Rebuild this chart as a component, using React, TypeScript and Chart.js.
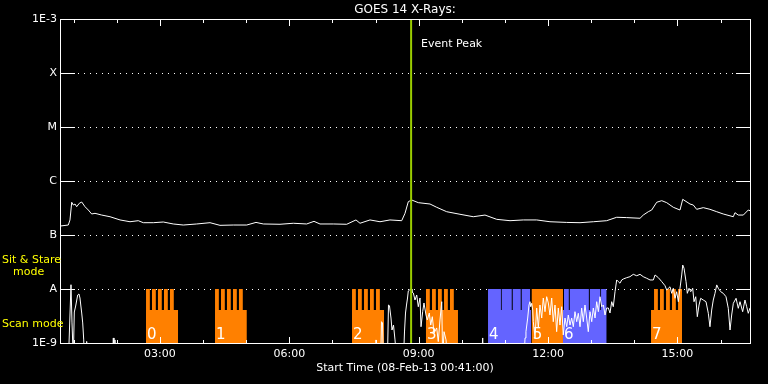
import React, { useEffect, useRef } from 'react';
import { Chart, registerables } from 'chart.js';

Chart.register(...registerables);

// ---------- text ----------
const chartTitle = 'GOES 14 X-Rays:';
const startTimeLabel = 'Start Time (08-Feb-13 00:41:00)';
const eventLabel = 'Event Peak';
const stareLabel = ['Sit & Stare', 'mode'];
const scanLabel = 'Scan mode';

// ---------- axes (time in minutes after 00:00 UT) ----------
const timeMin = 41;
const timeMax = 1001;
const hourTicks = [60, 120, 180, 240, 300, 360, 420, 480, 540, 600, 660, 720, 780, 840, 900, 960];
const timeTickValues = [180, 360, 540, 720, 900];
const timeTickLabels = ['03:00', '06:00', '09:00', '12:00', '15:00'];
const fluxTickValues = [1e-9, 1e-8, 1e-7, 1e-6, 1e-5, 1e-4, 1e-3];
const fluxTickLabels = ['1E-9', 'A', 'B', 'C', 'M', 'X', '1E-3'];

// ---------- long channel (1-8 A) ----------
const highTimes = [
  42.0, 52.5, 54.9, 57.3, 59.5, 61.9, 64.2, 67.9, 71.2, 75.8, 80.4, 85.1, 89.7, 99.0,
  110.6, 124.5, 138.4, 149.9, 156.9, 170.8, 184.7, 198.6, 212.5, 231.2, 249.7, 263.6,
  282.1, 300.8, 313.7, 323.9, 347.1, 365.6, 384.2, 394.4, 402.7, 421.2, 439.9, 452.8,
  458.4, 472.3, 486.2, 500.1, 516.4, 521.0, 525.6, 530.3, 539.5, 555.8, 565.1, 579.0,
  597.5, 616.0, 632.3, 648.6, 667.1, 685.6, 704.2, 722.7, 746.0, 764.5, 783.0, 801.6,
  815.5, 829.4, 848.0, 852.5, 859.5, 864.2, 871.2, 878.2, 885.1, 894.3, 903.6, 907.4,
  917.5, 922.1, 926.8, 936.0, 945.3, 954.7, 963.8, 977.8, 980.1, 984.7, 991.7, 998.6, 1001,
];
const highFlux = [
  1.47e-7, 1.53e-7, 1.90e-7, 4.04e-7, 3.59e-7, 3.75e-7, 3.34e-7, 3.87e-7, 4.08e-7, 3.34e-7, 2.90e-7, 2.45e-7, 2.52e-7, 2.34e-7,
  2.18e-7, 1.90e-7, 1.76e-7, 1.84e-7, 1.69e-7, 1.69e-7, 1.74e-7, 1.60e-7, 1.53e-7, 1.60e-7, 1.69e-7, 1.51e-7,
  1.53e-7, 1.53e-7, 1.71e-7, 1.60e-7, 1.58e-7, 1.65e-7, 1.60e-7, 1.79e-7, 1.60e-7, 1.60e-7, 1.58e-7, 1.90e-7,
  1.65e-7, 1.90e-7, 1.76e-7, 1.90e-7, 1.84e-7, 2.52e-7, 4.14e-7, 4.45e-7, 3.97e-7, 3.75e-7, 3.26e-7, 2.70e-7,
  2.42e-7, 2.18e-7, 2.34e-7, 1.95e-7, 1.84e-7, 1.90e-7, 1.90e-7, 1.76e-7, 1.71e-7, 1.69e-7, 1.76e-7, 1.84e-7,
  2.13e-7, 2.10e-7, 2.04e-7, 2.34e-7, 2.70e-7, 2.90e-7, 4.04e-7, 4.32e-7, 3.97e-7, 3.26e-7, 2.90e-7, 4.58e-7,
  3.75e-7, 3.59e-7, 2.99e-7, 3.21e-7, 2.99e-7, 2.70e-7, 2.45e-7, 2.18e-7, 2.59e-7, 2.34e-7, 2.34e-7, 2.90e-7, 2.82e-7,
];

// ---------- short channel (0.5-4 A) ----------
const lowTimes = [
  41, 52.8, 56.3, 57.7, 59.5, 60.9, 62.8, 65.6, 67.4, 68.8, 70.2, 71.2, 72.6, 74.0, 74.8, 76.8, 78.1, 80.0,
  114.0, 115.2, 116.1, 116.8, 117.5, 118.5,
  479.3, 480.6, 482.7, 487.2, 488.3, 489.7, 490.8, 496.6, 498.0, 499.4, 501.5, 502.9, 505.0, 507.1, 509.5,
  518.9, 520.3, 521.7, 523.1, 524.5, 525.6, 527.3, 529.4, 530.7, 532.6, 534.9, 537.3, 539.5, 541.9, 543.3,
  545.6, 547.4, 550.2, 552.0, 554.8, 556.8, 559.0, 561.4, 565.1, 567.3, 569.7, 572.1, 573.4, 575.3, 578.1, 579.9,
  627.4, 629.1, 630.2,
  686.6, 688.0, 689.3, 691.7, 693.5, 694.9, 695.9, 697.3, 698.7, 699.5, 701.9, 704.2, 706.5, 708.8, 711.2,
  713.4, 715.8, 718.1, 720.4, 722.7, 725.1, 727.3, 729.7, 732.0, 734.3, 736.6, 739.0, 741.2, 743.6, 746.0,
  748.2, 750.6, 752.9, 755.2, 757.5, 759.9, 762.1, 764.5, 766.8, 769.1, 771.4, 773.8, 776.0, 778.4, 780.8,
  783.0, 785.4, 787.7, 790.0, 792.3, 794.7, 797.0, 799.3, 801.6, 803.9, 806.2, 808.6, 810.8, 813.2, 815.5,
  817.8, 820.1, 822.5, 824.7, 829.4, 834.0, 838.6, 843.4, 848.0, 852.5, 857.3, 861.9, 866.5, 868.9, 873.5,
  878.2, 882.8, 885.1, 889.7, 892.1, 894.3, 896.7, 899.0, 901.3, 903.6, 906.0, 907.4, 909.2, 912.0, 913.8,
  916.2, 918.5, 921.3, 923.1, 925.5, 927.7, 930.1, 932.4, 936.0, 939.8, 943.0, 945.3, 947.7, 949.9, 952.3,
  954.7, 956.9, 960.3, 963.8, 967.6, 970.8, 973.2, 975.5, 977.8, 981.6, 984.7, 987.1, 990.8, 994.0, 996.4,
  998.6, 1001,
];
const lowFlux = [
  5e-10, 5e-10, 1.2e-8, 2.35e-9, 5e-10, 3.75e-9, 4.84e-9, 7.74e-9, 8.08e-9, 6.81e-9, 4.64e-9, 3.59e-9, 2.35e-9, 1.14e-9, 5e-10, 5e-10, 1.07e-9, 5e-10,
  5e-10, 1.24e-9, 5e-10, 5e-10, 1.14e-9, 5e-10,
  5e-10, 1.14e-9, 5e-10, 5e-10, 2.48e-9, 2.35e-9, 5e-10, 5e-10, 5.05e-9, 4.9e-9, 2.9e-9, 1.74e-9, 2.15e-9, 1.14e-9, 5e-10,
  5e-10, 1.6e-9, 3.59e-9, 5.05e-9, 6.81e-9, 9.2e-9, 9.58e-9, 1.0e-8, 8.8e-9, 8.43e-9, 6.25e-9, 7.74e-9, 4.7e-9, 6.81e-9, 2.0e-9,
  3.8e-9, 5.51e-9, 3.3e-9, 2.67e-9, 3.59e-9, 2.15e-9, 3.07e-9, 1.53e-9, 1.9e-9, 1.06e-9, 2.67e-9, 5.82e-9, 5e-10, 1.62e-9, 1.14e-9, 5e-10,
  5e-10, 1.24e-9, 5e-10,
  5e-10, 1.24e-9, 1.62e-9, 2.9e-9, 5.05e-9, 5.82e-9, 4.7e-9, 5.43e-9, 4.08e-9, 2.48e-9, 1.24e-9, 4.45e-9, 1.9e-9, 5.05e-9, 2.9e-9,
  6.81e-9, 3.8e-9, 7.2e-9, 5.51e-9, 3.3e-9, 6.81e-9, 2.48e-9, 5.05e-9, 1.62e-9, 4.45e-9, 2.15e-9, 4.7e-9, 1.41e-9, 2.9e-9, 2.0e-9,
  3.3e-9, 2.15e-9, 2.9e-9, 2.0e-9, 3.8e-9, 2.48e-9, 3.55e-9, 2.0e-9, 4.45e-9, 2.48e-9, 5.05e-9, 2.9e-9, 1.62e-9, 3.8e-9, 2.48e-9,
  4.45e-9, 2.9e-9, 5.82e-9, 3.8e-9, 7.2e-9, 4.7e-9, 5.05e-9, 3.3e-9, 4.45e-9, 4.45e-9, 3.59e-9, 5.82e-9, 4.7e-9, 8.91e-9, 1.47e-8,
  1.37e-8, 1.28e-8, 1.47e-8, 1.53e-8, 1.62e-8, 1.69e-8, 1.87e-8, 1.76e-8, 1.87e-8, 1.69e-8, 1.58e-8, 1.47e-8, 1.47e-8, 1.82e-8, 1.62e-8,
  1.37e-8, 1.15e-8, 9.58e-9, 1.1e-8, 8.32e-9, 1.03e-8, 6.73e-9, 8.91e-9, 5.82e-9, 1.03e-8, 1.82e-8, 2.78e-8, 2.42e-8, 1.37e-8, 8.32e-9,
  1.03e-8, 8.91e-9, 1.03e-8, 5.82e-9, 7.2e-9, 3.07e-9, 5.05e-9, 6.73e-9, 6.25e-9, 5.82e-9, 3.55e-9, 2.0e-9, 4.08e-9, 6.25e-9, 8.32e-9,
  1.19e-8, 1.03e-8, 8.91e-9, 8.32e-9, 7.2e-9, 4.39e-9, 1.74e-9, 3.3e-9, 5.43e-9, 6.73e-9, 4.39e-9, 5.82e-9, 3.8e-9, 6.25e-9, 4.7e-9,
  3.55e-9, 4.45e-9,
];

// ---------- event & observing modes ----------
const eventPeakTime = 529.5;
const SCAN_LEVEL = 4.08e-9;
const STARE_LEVEL = 1e-8;
const scanBlocks = [
  [160.7, 205.2], [256.7, 300.8], [447.3, 491.8], [550.2, 594.7], [863.3, 906.4],
];
const orangeStare = [
  [160.7, 166.0], [169.0, 174.3], [177.3, 182.6], [185.7, 191.0], [194.0, 199.3],
  [256.7, 262.0], [265.0, 270.3], [273.3, 278.6], [281.7, 287.0], [290.0, 295.3],
  [447.3, 452.6], [455.6, 460.9], [464.0, 469.3], [472.3, 477.6], [480.7, 486.0],
  [550.2, 555.5], [558.6, 563.9], [566.9, 572.2], [575.3, 580.6], [583.6, 588.9],
  [697.3, 740.8],
  [867.5, 872.8], [875.8, 881.1], [884.2, 889.5], [892.5, 897.8], [900.9, 906.4],
];
const blueStare = [[636.5, 696.3], [740.8, 801.6]];
const stareGaps = [
  [654.2, 655.6], [669.5, 670.9], [682.0, 683.4], [695.0, 696.4],
  [740.8, 742.2], [748.9, 750.3], [776.8, 778.2], [792.6, 794.0],
];
const blockLabels = ['0', '1', '2', '3', '4', '5', '6', '7'];
const blockLabelTimes = [160.7, 256.7, 447.3, 550.2, 636.5, 697.3, 740.8, 863.3];

const ORANGE = '#ff8000';
const BLUE = '#6464ff';
const EVENT_COLOR = '#9acd00';
const FONT = '"DejaVu Sans", sans-serif';

function steps(segs: number[][], level: number, floor: number) {
  const pts: { x: number; y: number }[] = [];
  for (const [a, b] of segs) {
    pts.push({ x: a, y: level });
    pts.push({ x: b, y: floor });
  }
  return pts;
}

const decorPlugin = {
  id: 'decor',
  beforeDatasetsDraw(chart: any) {
    const { ctx, chartArea: a, scales } = chart;
    const y = scales.y;
    ctx.save();
    ctx.fillStyle = '#ffffff';
    for (const v of fluxTickValues.slice(1, -1)) {
      const py = Math.round(y.getPixelForValue(v));
      for (let px = Math.round(a.left) + 18; px < a.right - 14; px += 6) ctx.fillRect(px, py, 1, 1);
    }
    ctx.restore();
  },
  afterDatasetsDraw(chart: any) {
    const { ctx, chartArea: a, scales } = chart;
    const x = scales.x;
    const y = scales.y;
    const L = Math.round(a.left);
    const R = Math.round(a.right);
    const T = Math.round(a.top);
    const B = Math.round(a.bottom);
    ctx.save();
    ctx.fillStyle = '#ffffff';
    // frame
    ctx.fillRect(L, T, R - L + 1, 1);
    ctx.fillRect(L, B, R - L + 1, 1);
    ctx.fillRect(L, T, 1, B - T + 1);
    ctx.fillRect(R, T, 1, B - T + 1);
    // time ticks (inward, top and bottom)
    for (const v of hourTicks) {
      const px = Math.round(x.getPixelForValue(v));
      const len = timeTickValues.includes(v) ? 7 : 4;
      ctx.fillRect(px, T, 1, len);
      ctx.fillRect(px, B - len + 1, 1, len);
    }
    // flux ticks (inward, left and right)
    for (const v of fluxTickValues.slice(1, -1)) {
      const py = Math.round(y.getPixelForValue(v));
      ctx.fillRect(L, py, 15, 1);
      ctx.fillRect(R - 14, py, 15, 1);
    }
    // title
    ctx.font = `12px ${FONT}`;
    ctx.textAlign = 'center';
    ctx.textBaseline = 'alphabetic';
    ctx.fillText(chartTitle, (a.left + a.right) / 2, 13);
    // event label
    ctx.font = `11px ${FONT}`;
    ctx.textAlign = 'left';
    ctx.fillText(eventLabel, x.getPixelForValue(eventPeakTime) + 10, T + 28);
    // block numbers
    ctx.font = `15px ${FONT}`;
    blockLabels.forEach((lab, i) => {
      ctx.fillText(lab, x.getPixelForValue(blockLabelTimes[i]) + 1, B - 4);
    });
    // mode labels
    ctx.fillStyle = '#ffff00';
    ctx.font = `11px ${FONT}`;
    const stareY = y.getPixelForValue(STARE_LEVEL);
    const scanY = y.getPixelForValue(SCAN_LEVEL);
    ctx.fillText(stareLabel[0], 2, stareY - 26);
    ctx.fillText(stareLabel[1], 13, stareY - 14);
    ctx.fillText(scanLabel, 2, scanY + 17);
    ctx.restore();
  },
};

export default function App() {
  const ref = useRef<HTMLCanvasElement | null>(null);

  useEffect(() => {
    document.body.style.margin = '0';
    document.body.style.background = '#000';
    const canvas = ref.current;
    if (!canvas) return;
    const blank = 'rgba(0,0,0,0)';
    const chart = new Chart(canvas, {
      type: 'line',
      data: {
        datasets: [
          {
            data: steps(scanBlocks, SCAN_LEVEL, 1e-9),
            stepped: true, fill: 'start', backgroundColor: ORANGE, borderColor: blank, borderWidth: 0,
            pointRadius: 0, order: 10,
          },
          {
            data: steps(orangeStare, STARE_LEVEL, 1e-9),
            stepped: true, fill: 'start', backgroundColor: ORANGE, borderColor: blank, borderWidth: 0,
            pointRadius: 0, order: 9,
          },
          {
            data: steps(blueStare, STARE_LEVEL, 1e-9),
            stepped: true, fill: 'start', backgroundColor: BLUE, borderColor: blank, borderWidth: 0,
            pointRadius: 0, order: 8,
          },
          {
            data: steps(stareGaps, STARE_LEVEL, SCAN_LEVEL),
            stepped: true, fill: { value: SCAN_LEVEL }, backgroundColor: '#000000', borderColor: blank, borderWidth: 0,
            pointRadius: 0, order: 7,
          },
          {
            data: highTimes.map((t, i) => ({ x: t, y: highFlux[i] })),
            borderColor: '#ffffff', borderWidth: 1, pointRadius: 0, fill: false, order: 5,
          },
          {
            data: lowTimes.map((t, i) => ({ x: t, y: lowFlux[i] })),
            borderColor: '#ffffff', borderWidth: 1, pointRadius: 0, fill: false, order: 4,
          },
          {
            data: [{ x: eventPeakTime, y: 1e-9 }, { x: eventPeakTime, y: 1e-3 }],
            borderColor: EVENT_COLOR, borderWidth: 2, pointRadius: 0, fill: false, order: 1,
          },
        ],
      },
      options: {
        animation: false,
        responsive: true,
        maintainAspectRatio: false,
        events: [],
        layout: { padding: { top: 19, right: 18, left: 0, bottom: 0 } },
        plugins: { legend: { display: false }, tooltip: { enabled: false }, title: { display: false } },
        scales: {
          x: {
            type: 'linear',
            min: timeMin,
            max: timeMax,
            grid: { display: false, drawTicks: false },
            border: { display: false },
            afterBuildTicks: (s: any) => { s.ticks = hourTicks.map((v) => ({ value: v })); },
            afterFit: (s: any) => { s.height = 41; },
            ticks: {
              autoSkip: false, maxRotation: 0, padding: 5, color: '#ffffff',
              font: { family: FONT, size: 11 },
              callback: (v: any) => {
                const i = timeTickValues.indexOf(Number(v));
                return i >= 0 ? timeTickLabels[i] : '';
              },
            },
            title: {
              display: true, text: startTimeLabel, color: '#ffffff',
              font: { family: FONT, size: 11 }, padding: { top: 0, bottom: 9 },
            },
          },
          y: {
            type: 'logarithmic',
            min: 1e-9,
            max: 1e-3,
            grid: { display: false, drawTicks: false },
            border: { display: false },
            afterBuildTicks: (s: any) => { s.ticks = fluxTickValues.map((v) => ({ value: v })); },
            afterFit: (s: any) => { s.width = 60; },
            ticks: {
              autoSkip: false, padding: 3, color: '#ffffff',
              font: { family: FONT, size: 11 },
              callback: (_v: any, i: number) => fluxTickLabels[i],
            },
          },
        },
      },
      plugins: [decorPlugin],
    } as any);
    return () => chart.destroy();
  }, []);

  return (
    <div style={{ width: 768, height: 384, background: '#000', position: 'relative' }}>
      <canvas ref={ref} />
    </div>
  );
}
